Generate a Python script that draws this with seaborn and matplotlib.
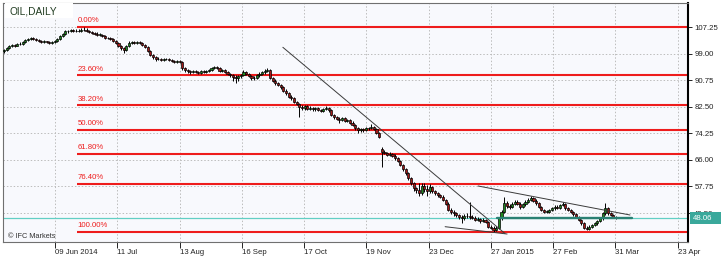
import numpy as np
import pandas as pd
import matplotlib
matplotlib.use("Agg")
import matplotlib.pyplot as plt
from matplotlib.patches import Rectangle
import seaborn as sns

# ---------------- data ----------------
opens = [
    99.7, 100.1, 100.6, 101.2, 101.6, 101.5, 101.9, 102.1, 102.6, 103.2,
    103.4, 103.8, 103.6, 103.1, 102.9, 102.7, 102.8, 102.5, 102.3, 102.6,
    102.9, 103.6, 104.5, 105.2, 105.9, 106.0, 106.2, 105.9, 106.1, 106.0,
    106.3, 106.4, 106.0, 105.6, 105.4, 105.2, 104.9, 104.9, 104.5, 103.9,
    103.8, 103.5, 102.9, 102.3, 101.2, 100.6, 100.1, 101.4, 102.4, 102.5,
    102.3, 102.6, 102.4, 101.8, 101.1, 99.9, 98.6, 97.8, 97.2, 97.4,
    97.1, 97.3, 97.2, 97.0, 96.8, 96.5, 96.6, 96.4, 94.4, 93.9,
    93.5, 93.2, 93.5, 93.4, 93.1, 93.6, 93.3, 93.5, 93.9, 94.5,
    94.9, 94.6, 93.6, 93.8, 93.4, 92.6, 92.35, 91.8, 91.3, 91.9,
    92.4, 93.4, 92.8, 92.0, 91.3, 91.5, 92.2, 92.8, 93.2, 93.6,
    94.0, 91.3, 90.6, 89.8, 89.2, 88.7, 87.5, 86.7, 85.6, 85.1,
    84.1, 83.4, 82.5, 82.0, 82.6, 81.9, 82.2, 81.7, 82.0, 81.5,
    81.2, 81.8, 82.2, 81.4, 79.9, 79.2, 78.8, 78.4, 78.9, 78.2,
    78.4, 77.6, 76.8, 75.8, 75.2, 75.6, 75.3, 75.8, 75.9, 76.3,
    75.6, 74.35, 69.5, 68.5, 68.2, 67.5, 67.9, 67.3, 66.5, 65.6,
    64.4, 63.1, 61.8, 60.3, 58.7, 57.3, 56.7, 55.6, 57.9, 56.9,
    56.4, 57.6, 56.2, 55.6, 55.1, 54.6, 53.6, 52.4, 50.45, 49.9,
    49.4, 48.8, 48.4, 47.9, 48.5, 48.7, 48.4, 48.1, 47.35, 47.6,
    47.0, 47.35, 46.8, 45.3, 45.0, 44.25, 44.8, 47.9, 49.9, 52.5,
    51.8, 51.5, 52.3, 53.0, 52.4, 51.5, 52.2, 53.0, 53.6, 54.1,
    53.4, 52.5, 51.4, 50.45, 49.9, 49.9, 50.6, 51.0, 51.5, 51.2,
    52.0, 52.4, 51.0, 50.5, 49.9, 49.1, 48.4, 47.3, 46.3, 44.8,
    44.6, 45.3, 45.8, 46.3, 47.1, 47.9, 49.4, 51.0, 49.4, 48.9,
    48.4,
]
highs = [
    100.5, 101.0, 101.6, 101.9, 102.0, 102.2, 102.5, 102.9, 103.6, 103.8,
    104.2, 104.1, 103.8, 103.4, 103.2, 103.1, 103.0, 102.8, 102.9, 103.3,
    103.9, 104.8, 105.5, 106.3, 106.4, 106.6, 106.5, 106.5, 106.5, 106.8,
    107.25, 106.9, 106.4, 106.0, 105.8, 105.6, 105.3, 105.2, 104.8, 104.3,
    104.1, 103.8, 103.2, 102.6, 101.6, 101.0, 101.7, 102.8, 102.9, 102.9,
    103.0, 102.9, 102.7, 102.1, 101.4, 100.2, 98.9, 98.2, 97.8, 97.7,
    97.7, 97.6, 97.5, 97.3, 97.1, 97.0, 96.9, 96.6, 94.8, 94.3,
    93.8, 93.9, 93.9, 93.7, 94.0, 93.9, 93.9, 94.3, 94.9, 95.3,
    95.2, 94.9, 94.2, 94.1, 93.7, 93.0, 92.7, 92.2, 92.3, 92.8,
    93.8, 93.7, 93.1, 92.4, 91.9, 92.6, 93.2, 93.6, 94.1, 94.6,
    94.2, 91.7, 91.0, 90.1, 89.5, 89.0, 87.9, 87.0, 86.0, 85.4,
    84.4, 83.8, 82.9, 83.0, 82.9, 82.6, 82.5, 82.4, 82.3, 81.9,
    82.2, 82.7, 82.5, 81.7, 80.3, 79.6, 79.2, 79.3, 79.2, 78.8,
    78.7, 78.0, 77.1, 76.1, 75.9, 76.0, 76.1, 76.3, 77.0, 76.6,
    75.9, 74.6, 69.9, 69.1, 68.6, 68.3, 68.2, 67.7, 66.8, 65.9,
    64.7, 63.5, 62.2, 60.6, 59.1, 57.7, 58.7, 58.9, 58.8, 58.3,
    58.6, 57.9, 56.6, 56.0, 55.4, 55.0, 54.0, 52.8, 51.0, 50.5,
    49.8, 49.3, 48.8, 49.1, 49.4, 52.8, 48.9, 48.5, 48.2, 48.0,
    47.9, 47.6, 47.1, 45.8, 45.4, 45.6, 48.3, 50.6, 54.6, 53.2,
    52.4, 52.9, 53.6, 53.5, 52.8, 52.7, 53.5, 54.2, 54.8, 54.4,
    53.8, 52.9, 51.8, 50.9, 50.4, 50.9, 51.5, 51.9, 51.9, 52.4,
    52.9, 52.7, 51.4, 50.8, 50.2, 49.5, 48.7, 47.7, 46.6, 45.4,
    45.7, 46.2, 46.7, 47.5, 48.3, 49.8, 52.5, 51.3, 49.8, 49.2,
    48.7,
]
lows = [
    99.3, 99.8, 100.3, 100.9, 101.1, 101.2, 101.6, 101.8, 102.3, 102.9,
    103.1, 103.3, 102.8, 102.6, 102.4, 102.4, 102.2, 101.9, 102.0, 102.3,
    102.6, 103.3, 104.2, 104.9, 105.5, 105.7, 105.6, 105.6, 105.7, 105.7,
    105.9, 105.7, 105.3, 105.0, 104.8, 104.5, 104.5, 104.1, 103.5, 103.4,
    103.1, 102.6, 101.9, 100.9, 100.2, 99.3, 99.8, 101.1, 102.0, 101.9,
    102.0, 102.1, 101.5, 100.7, 99.6, 98.2, 97.4, 96.8, 96.9, 96.7,
    96.8, 96.9, 96.6, 96.4, 96.1, 96.2, 96.0, 94.0, 93.4, 93.0,
    92.8, 92.9, 93.0, 92.7, 92.8, 92.9, 93.0, 93.2, 93.6, 94.1,
    94.2, 93.2, 93.3, 93.0, 92.2, 91.7, 90.6, 89.8, 90.5, 91.5,
    92.0, 92.4, 91.6, 90.9, 90.9, 91.2, 91.8, 92.4, 92.8, 93.2,
    91.0, 90.2, 89.4, 88.8, 88.1, 87.1, 86.2, 85.2, 84.6, 83.6,
    83.0, 79.3, 81.6, 81.6, 81.5, 81.6, 81.3, 81.3, 81.1, 80.8,
    80.9, 81.4, 81.0, 79.5, 78.8, 78.3, 77.3, 78.0, 77.8, 77.9,
    77.2, 76.4, 75.2, 74.3, 74.8, 74.8, 74.9, 75.4, 75.5, 75.2,
    74.0, 72.8, 63.8, 67.7, 67.1, 67.2, 66.8, 66.1, 65.2, 64.0,
    62.7, 61.4, 59.9, 58.2, 56.2, 55.6, 54.8, 55.2, 55.9, 54.9,
    55.8, 55.8, 55.2, 54.6, 54.1, 53.2, 51.9, 50.0, 49.3, 48.7,
    48.3, 47.6, 46.4, 47.4, 48.0, 47.8, 47.6, 46.9, 46.9, 46.5,
    46.6, 46.3, 45.0, 44.5, 43.6, 44.0, 44.6, 47.5, 49.5, 51.2,
    50.8, 51.0, 51.9, 52.0, 50.9, 51.2, 51.8, 52.5, 53.2, 53.0,
    52.1, 51.0, 50.0, 49.5, 49.4, 49.5, 50.2, 50.6, 50.8, 50.9,
    51.6, 50.6, 50.1, 49.5, 48.7, 48.0, 46.9, 45.9, 44.4, 44.2,
    44.3, 44.9, 45.4, 45.9, 46.7, 47.5, 49.0, 49.0, 48.5, 48.0,
    47.8,
]
closes = [
    100.1, 100.6, 101.2, 101.6, 101.5, 101.9, 102.1, 102.6, 103.2, 103.4,
    103.8, 103.6, 103.1, 102.9, 102.7, 102.8, 102.5, 102.3, 102.6, 102.9,
    103.6, 104.5, 105.2, 105.9, 106.0, 106.2, 105.9, 106.1, 106.0, 106.3,
    106.4, 106.0, 105.6, 105.4, 105.2, 104.9, 104.9, 104.5, 103.9, 103.8,
    103.5, 102.9, 102.3, 101.2, 100.6, 100.1, 101.4, 102.4, 102.5, 102.3,
    102.6, 102.4, 101.8, 101.1, 99.9, 98.6, 97.8, 97.2, 97.4, 97.1,
    97.3, 97.2, 97.0, 96.8, 96.5, 96.6, 96.4, 94.4, 93.9, 93.5,
    93.2, 93.5, 93.4, 93.1, 93.6, 93.3, 93.5, 93.9, 94.5, 94.9,
    94.6, 93.6, 93.8, 93.4, 92.6, 92.35, 91.8, 91.3, 91.9, 92.4,
    93.4, 92.8, 92.0, 91.3, 91.5, 92.2, 92.8, 93.2, 93.6, 94.0,
    91.3, 90.6, 89.8, 89.2, 88.7, 87.5, 86.7, 85.6, 85.1, 84.1,
    83.4, 82.5, 82.0, 82.6, 81.9, 82.2, 81.7, 82.0, 81.5, 81.2,
    81.8, 82.2, 81.4, 79.9, 79.2, 78.8, 78.4, 78.9, 78.2, 78.4,
    77.6, 76.8, 75.8, 75.2, 75.6, 75.3, 75.8, 75.9, 76.3, 75.6,
    74.35, 73.2, 68.5, 68.2, 67.5, 67.9, 67.3, 66.5, 65.6, 64.4,
    63.1, 61.8, 60.3, 58.7, 57.3, 56.7, 55.6, 57.9, 56.9, 56.4,
    57.6, 56.2, 55.6, 55.1, 54.6, 53.6, 52.4, 50.45, 49.9, 49.4,
    48.8, 48.4, 47.9, 48.5, 48.7, 48.4, 48.1, 47.35, 47.6, 47.0,
    47.35, 46.8, 45.3, 45.0, 44.25, 44.8, 47.9, 49.9, 52.5, 51.8,
    51.5, 52.3, 53.0, 52.4, 51.5, 52.2, 53.0, 53.6, 54.1, 53.4,
    52.5, 51.4, 50.45, 49.9, 49.9, 50.6, 51.0, 51.5, 51.2, 52.0,
    52.4, 51.0, 50.5, 49.9, 49.1, 48.4, 47.3, 46.3, 44.8, 44.6,
    45.3, 45.8, 46.3, 47.1, 47.9, 49.4, 51.0, 49.4, 48.9, 48.4,
    48.06,
]

x_tick_pos = [19.2, 42.6, 66.0, 89.4, 112.8, 136.2, 159.6, 183.0, 206.4, 229.8, 253.2]
x_tick_labels = ["09 Jun 2014", "11 Jul", "13 Aug", "16 Sep", "17 Oct", "19 Nov",
                 "23 Dec", "27 Jan 2015", "27 Feb", "31 Mar", "23 Apr"]
y_tick_vals = [107.25, 99.00, 90.75, 82.50, 74.25, 66.00, 57.75, 49.50]

fib_pcts = [0.0, 23.6, 38.2, 50.0, 61.8, 76.4, 100.0]
fib_high = 107.25
fib_low = 43.6
fib_start = 27.4
bid_price = 48.06

trend_x = [[104.8, 188.3], [165.8, 189.1], [178.2, 235.3]]
trend_y = [[100.95, 43.16], [45.27, 43.0], [57.9, 48.9]]
support_x = [185.3, 236.1]
support_y = [48.1, 48.1]

# ---------------- style ----------------
sns.set_theme(style="white")
plt.rcParams['font.family'] = ['Liberation Sans', 'DejaVu Sans']

W, H = 725, 256
fig = plt.figure(figsize=(W / 100, H / 100), dpi=100)
fig.patch.set_facecolor("white")
ax = fig.add_axes([3 / W, 14 / H, 685 / W, 239 / H])
ax.set_facecolor("#f8f9fd")

df = pd.DataFrame({"open": opens, "high": highs, "low": lows, "close": closes})
df["idx"] = np.arange(len(df))
XMIN, XMAX = -0.4, 257.1
ax.set_xlim(XMIN, XMAX)
ax.set_ylim(40.52, 114.70)

# grid
ax.set_xticks(x_tick_pos)
ax.set_xticklabels(x_tick_labels, ha="left")
ax.set_yticks(y_tick_vals)
ax.set_yticklabels([f"{v:.2f}" for v in y_tick_vals])
ax.grid(True, color="#bdbdbd", linestyle=(0, (1.5, 2.0)), linewidth=0.7, zorder=0)
ax.set_axisbelow(True)

# bid line
ax.axhline(bid_price, color="#62cfc4", lw=0.9, zorder=1)

# fibonacci levels
fib_color = "#ee1c1c"
for p in fib_pcts:
    lvl = fib_high - p / 100.0 * (fib_high - fib_low)
    ax.hlines(lvl, fib_start, XMAX, color=fib_color, lw=1.5, zorder=2)
    ax.annotate(f"{p:.2f}%", (fib_start, lvl), xytext=(0.3, 2.0),
                textcoords="offset points", fontsize=5.6, color=fib_color,
                ha="left", va="bottom", zorder=6)

# candles
bull = df["close"] >= df["open"]
ax.vlines(df["idx"], df["low"], df["high"], color="black", lw=0.7, zorder=3)
body_bottom = np.minimum(df["open"], df["close"])
body_h = np.maximum(np.abs(df["close"] - df["open"]), 0.1)
colors = np.where(bull, "#1f8a1f", "#a31818")
ax.bar(df["idx"], body_h, bottom=body_bottom, width=0.8, color=colors,
       edgecolor="black", linewidth=0.5, zorder=4)

# trend lines
for tx, ty in zip(trend_x, trend_y):
    sns.lineplot(x=tx, y=ty, ax=ax, color="#3a3a3a", lw=0.7, zorder=5)
sns.lineplot(x=support_x, y=support_y, ax=ax, color="#2a8073", lw=1.7, zorder=5)

# axes styling
ax.yaxis.tick_right()
ax.tick_params(axis="y", direction="out", length=3, width=0.6, color="black",
               labelsize=5.6, pad=1.5, labelcolor="#222222", right=True, left=False)
ax.tick_params(axis="x", direction="out", length=4, width=0.6, color="black",
               labelsize=5.6, pad=1.0, labelcolor="#222222", bottom=True)
for lab in ax.get_yticklabels():
    lab.set_horizontalalignment("left")
for s in ["left", "bottom", "top"]:
    ax.spines[s].set_color("#707070")
    ax.spines[s].set_linewidth(0.8)
ax.spines["right"].set_color("black")
ax.spines["right"].set_linewidth(1.5)
ax.set_xlabel("")
ax.set_ylabel("")

# current price label (covers the lower part of the 49.50 tick label, as in the reference)
fig.patches.append(Rectangle((690 / W, 1 - 224 / H), 31 / W, 12 / H,
                             transform=fig.transFigure, facecolor="#3aa89b",
                             edgecolor="none", zorder=10))
fig.text(693 / W, 1 - 218 / H, f"{bid_price:.2f}", fontsize=5.6, color="white",
         ha="left", va="center", zorder=11)

# title and copyright
fig.patches.append(Rectangle((5 / W, 1 - 18 / H), 68 / W, 15 / H,
                             transform=fig.transFigure, facecolor="white",
                             edgecolor="none", zorder=10))
fig.text(10 / W, 1 - 12 / H, "OIL,DAILY", fontsize=7.3, color="#223d22",
         ha="left", va="center", zorder=11)
fig.text(8 / W, 1 - 236 / H, "\u00a9 IFC Markets", fontsize=5.3, color="#333333",
         ha="left", va="center", zorder=11)

fig.savefig("out.png", dpi=100)
